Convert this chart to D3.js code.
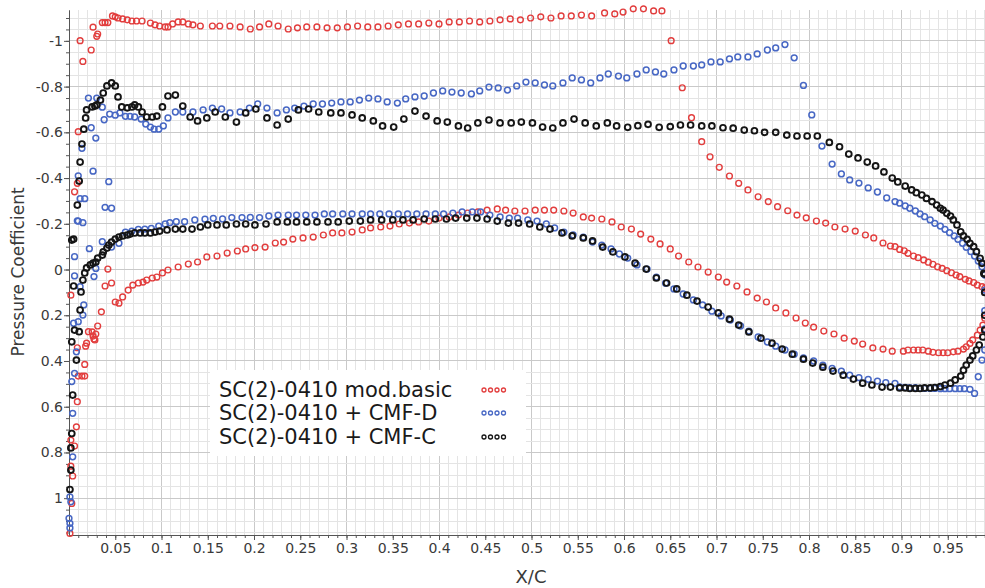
<!DOCTYPE html>
<html><head><meta charset="utf-8">
<script src="https://cdn.jsdelivr.net/npm/d3@7"></script>
<style>
html,body{margin:0;padding:0;background:#fff;}
svg{display:block;font-family:"DejaVu Sans",Verdana,sans-serif;}
</style></head><body>
<svg id="chart" width="985" height="588"></svg>
<script>
const seriesNames = ["SC(2)-0410 mod.basic", "SC(2)-0410 + CMF-D", "SC(2)-0410 + CMF-C"];
const seriesColors = ["#e23d3d", "#4767c4", "#151515"];

const basicUpper = [[0.002,0.112],[0.006,-0.340],[0.009,-0.377],[0.010,-0.603],[0.012,-1.001],[0.015,-0.910],[0.024,-0.960],[0.026,-1.060],[0.030,-1.020],[0.031,-1.030],[0.036,-1.080],[0.039,-1.080],[0.042,-1.080],[0.047,-1.109],[0.050,-1.105],[0.053,-1.100],[0.058,-1.096],[0.063,-1.092],[0.068,-1.087],[0.073,-1.087],[0.079,-1.087],[0.088,-1.078],[0.093,-1.070],[0.098,-1.065],[0.104,-1.061],[0.107,-1.061],[0.112,-1.074],[0.118,-1.083],[0.123,-1.083],[0.129,-1.074],[0.134,-1.070],[0.142,-1.065],[0.155,-1.065],[0.163,-1.065],[0.174,-1.065],[0.185,-1.061],[0.196,-1.052],[0.206,-1.061],[0.216,-1.074],[0.226,-1.065],[0.237,-1.052],[0.247,-1.057],[0.257,-1.061],[0.268,-1.061],[0.279,-1.057],[0.290,-1.057],[0.301,-1.061],[0.312,-1.065],[0.323,-1.061],[0.334,-1.061],[0.345,-1.065],[0.356,-1.070],[0.367,-1.074],[0.378,-1.074],[0.389,-1.078],[0.400,-1.074],[0.411,-1.083],[0.422,-1.083],[0.433,-1.087],[0.444,-1.083],[0.455,-1.087],[0.466,-1.092],[0.477,-1.096],[0.488,-1.092],[0.499,-1.100],[0.510,-1.105],[0.521,-1.100],[0.532,-1.109],[0.543,-1.109],[0.554,-1.113],[0.565,-1.109],[0.579,-1.122],[0.590,-1.118],[0.599,-1.126],[0.610,-1.140],[0.621,-1.140],[0.632,-1.131],[0.641,-1.131],[0.651,-1.001],[0.663,-0.795],[0.673,-0.664],[0.684,-0.559],[0.693,-0.493],[0.703,-0.447],[0.714,-0.409],[0.724,-0.377],[0.734,-0.348],[0.745,-0.318],[0.756,-0.297],[0.766,-0.275],[0.777,-0.257],[0.787,-0.238],[0.797,-0.226],[0.808,-0.212],[0.818,-0.203],[0.828,-0.186],[0.839,-0.177],[0.850,-0.168],[0.861,-0.151],[0.870,-0.138],[0.880,-0.116],[0.888,-0.103],[0.893,-0.100],[0.898,-0.088],[0.903,-0.082],[0.907,-0.071],[0.913,-0.059],[0.918,-0.052],[0.924,-0.042],[0.929,-0.032],[0.934,-0.023],[0.939,-0.012],[0.944,-0.005],[0.949,0.005],[0.954,0.014],[0.959,0.024],[0.963,0.031],[0.969,0.043],[0.973,0.050],[0.978,0.057],[0.982,0.068],[0.987,0.075],[0.990,0.082]];

const basicLower = [[0.001,1.154],[0.003,1.023],[0.004,0.903],[0.002,0.860],[0.006,0.772],[0.002,0.746],[0.008,0.688],[0.009,0.578],[0.010,0.466],[0.014,0.466],[0.017,0.466],[0.009,0.342],[0.018,0.335],[0.019,0.322],[0.017,0.415],[0.021,0.272],[0.025,0.273],[0.026,0.291],[0.027,0.304],[0.028,0.308],[0.029,0.282],[0.031,0.247],[0.035,0.185],[0.039,0.072],[0.042,-0.002],[0.046,0.059],[0.050,0.142],[0.054,0.147],[0.058,0.120],[0.064,0.090],[0.069,0.068],[0.075,0.059],[0.080,0.055],[0.084,0.046],[0.090,0.037],[0.095,0.033],[0.101,0.015],[0.107,0.002],[0.118,-0.011],[0.129,-0.024],[0.139,-0.033],[0.149,-0.055],[0.160,-0.059],[0.171,-0.072],[0.182,-0.081],[0.191,-0.090],[0.201,-0.096],[0.212,-0.098],[0.223,-0.116],[0.232,-0.120],[0.242,-0.133],[0.253,-0.138],[0.264,-0.142],[0.275,-0.151],[0.285,-0.160],[0.295,-0.160],[0.306,-0.164],[0.317,-0.173],[0.326,-0.182],[0.337,-0.186],[0.347,-0.190],[0.357,-0.199],[0.368,-0.203],[0.378,-0.208],[0.389,-0.212],[0.400,-0.225],[0.411,-0.230],[0.421,-0.238],[0.431,-0.247],[0.442,-0.252],[0.452,-0.260],[0.463,-0.265],[0.472,-0.260],[0.482,-0.256],[0.493,-0.256],[0.504,-0.260],[0.514,-0.260],[0.524,-0.260],[0.535,-0.256],[0.545,-0.247],[0.556,-0.230],[0.565,-0.225],[0.576,-0.221],[0.587,-0.208],[0.597,-0.186],[0.608,-0.177],[0.618,-0.155],[0.629,-0.133],[0.639,-0.112],[0.650,-0.090],[0.659,-0.059],[0.670,-0.033],[0.680,-0.011],[0.691,0.011],[0.702,0.033],[0.711,0.055],[0.722,0.072],[0.733,0.098],[0.744,0.125],[0.754,0.142],[0.764,0.168],[0.775,0.190],[0.786,0.212],[0.796,0.234],[0.805,0.252],[0.816,0.269],[0.827,0.282],[0.838,0.300],[0.849,0.313],[0.858,0.326],[0.869,0.343],[0.880,0.348],[0.890,0.357],[0.902,0.357],[0.907,0.352],[0.913,0.352],[0.918,0.352],[0.923,0.352],[0.929,0.357],[0.934,0.362],[0.940,0.364],[0.945,0.364],[0.950,0.364],[0.956,0.360],[0.961,0.357],[0.967,0.348],[0.970,0.338],[0.974,0.323],[0.977,0.308],[0.982,0.287],[0.985,0.265],[0.988,0.243],[0.990,0.213]];

const cmfdUpper = [[0.006,-0.056],[0.009,-0.213],[0.010,-0.410],[0.012,-0.310],[0.017,-0.310],[0.014,-0.530],[0.021,-0.750],[0.024,-0.620],[0.030,-0.750],[0.029,-0.575],[0.026,-0.430],[0.043,-0.384],[0.039,-0.272],[0.046,-0.268],[0.036,-0.710],[0.038,-0.655],[0.044,-0.680],[0.050,-0.675],[0.055,-0.685],[0.061,-0.670],[0.066,-0.670],[0.071,-0.667],[0.078,-0.658],[0.083,-0.636],[0.088,-0.623],[0.092,-0.614],[0.097,-0.614],[0.102,-0.628],[0.107,-0.663],[0.115,-0.689],[0.123,-0.689],[0.134,-0.689],[0.145,-0.698],[0.155,-0.706],[0.165,-0.702],[0.174,-0.685],[0.185,-0.689],[0.195,-0.706],[0.204,-0.724],[0.214,-0.706],[0.225,-0.685],[0.235,-0.698],[0.244,-0.706],[0.254,-0.715],[0.264,-0.724],[0.274,-0.724],[0.284,-0.728],[0.294,-0.733],[0.304,-0.733],[0.314,-0.741],[0.324,-0.750],[0.334,-0.746],[0.344,-0.733],[0.355,-0.728],[0.364,-0.746],[0.374,-0.755],[0.384,-0.759],[0.394,-0.772],[0.404,-0.781],[0.414,-0.776],[0.424,-0.772],[0.435,-0.768],[0.444,-0.781],[0.454,-0.798],[0.464,-0.794],[0.474,-0.785],[0.484,-0.803],[0.494,-0.820],[0.504,-0.816],[0.514,-0.807],[0.523,-0.803],[0.534,-0.816],[0.544,-0.838],[0.554,-0.829],[0.564,-0.816],[0.574,-0.838],[0.583,-0.855],[0.594,-0.846],[0.603,-0.838],[0.614,-0.855],[0.624,-0.873],[0.634,-0.864],[0.643,-0.855],[0.654,-0.873],[0.664,-0.890],[0.675,-0.890],[0.684,-0.895],[0.694,-0.908],[0.704,-0.908],[0.714,-0.921],[0.723,-0.930],[0.734,-0.930],[0.744,-0.943],[0.755,-0.960],[0.764,-0.969],[0.774,-0.984],[0.784,-0.926],[0.794,-0.805],[0.803,-0.676],[0.814,-0.540],[0.825,-0.461],[0.835,-0.418],[0.844,-0.392],[0.854,-0.378],[0.864,-0.357],[0.874,-0.339],[0.884,-0.313],[0.893,-0.297],[0.898,-0.290],[0.904,-0.278],[0.909,-0.268],[0.915,-0.256],[0.920,-0.243],[0.925,-0.231],[0.931,-0.217],[0.936,-0.202],[0.942,-0.190],[0.947,-0.176],[0.952,-0.161],[0.957,-0.147],[0.961,-0.132],[0.966,-0.115],[0.970,-0.097],[0.975,-0.078],[0.979,-0.059],[0.983,-0.037],[0.987,-0.012],[0.990,0.024]];

const cmfdLower = [[0.001,1.130],[0.001,1.110],[0.000,1.088],[0.002,1.016],[0.001,0.994],[0.004,0.819],[0.004,0.629],[0.003,0.490],[0.006,0.454],[0.008,0.360],[0.005,0.235],[0.010,0.228],[0.015,0.199],[0.016,0.155],[0.012,0.075],[0.006,0.028],[0.010,-0.212],[0.015,-0.205],[0.022,-0.091],[0.027,0.031],[0.029,-0.005],[0.036,-0.122],[0.046,-0.098],[0.054,-0.115],[0.061,-0.163],[0.068,-0.168],[0.075,-0.176],[0.082,-0.177],[0.089,-0.180],[0.097,-0.190],[0.104,-0.199],[0.109,-0.205],[0.116,-0.209],[0.125,-0.209],[0.136,-0.217],[0.147,-0.220],[0.156,-0.224],[0.166,-0.221],[0.176,-0.227],[0.187,-0.227],[0.196,-0.228],[0.206,-0.227],[0.216,-0.234],[0.226,-0.238],[0.237,-0.238],[0.246,-0.238],[0.256,-0.238],[0.266,-0.238],[0.276,-0.243],[0.285,-0.243],[0.296,-0.243],[0.306,-0.243],[0.317,-0.243],[0.326,-0.243],[0.336,-0.243],[0.346,-0.243],[0.356,-0.243],[0.366,-0.243],[0.376,-0.243],[0.386,-0.243],[0.396,-0.243],[0.405,-0.243],[0.415,-0.247],[0.425,-0.252],[0.436,-0.252],[0.445,-0.252],[0.455,-0.238],[0.466,-0.230],[0.476,-0.225],[0.485,-0.225],[0.496,-0.217],[0.506,-0.212],[0.516,-0.199],[0.525,-0.182],[0.535,-0.164],[0.545,-0.151],[0.556,-0.142],[0.566,-0.120],[0.576,-0.107],[0.586,-0.090],[0.595,-0.068],[0.604,-0.050],[0.614,-0.020],[0.625,-0.002],[0.635,0.033],[0.645,0.060],[0.654,0.085],[0.664,0.107],[0.675,0.133],[0.685,0.155],[0.695,0.182],[0.705,0.203],[0.715,0.221],[0.726,0.247],[0.735,0.269],[0.745,0.295],[0.755,0.317],[0.764,0.335],[0.774,0.352],[0.784,0.370],[0.794,0.387],[0.805,0.400],[0.815,0.418],[0.825,0.432],[0.835,0.444],[0.844,0.462],[0.854,0.473],[0.864,0.480],[0.874,0.488],[0.883,0.495],[0.893,0.498],[0.898,0.513],[0.904,0.515],[0.909,0.517],[0.915,0.517],[0.920,0.520],[0.925,0.520],[0.931,0.520],[0.936,0.520],[0.942,0.521],[0.947,0.521],[0.952,0.521],[0.958,0.521],[0.963,0.521],[0.968,0.521],[0.974,0.524],[0.979,0.542],[0.983,0.469],[0.987,0.396],[0.990,0.352],[0.990,0.260],[0.990,0.180],[0.990,0.090]];

const cmfcUpper = [[0.005,-0.133],[0.009,-0.282],[0.011,-0.387],[0.012,-0.470],[0.014,-0.549],[0.016,-0.614],[0.018,-0.663],[0.019,-0.698],[0.025,-0.711],[0.028,-0.715],[0.030,-0.720],[0.034,-0.741],[0.037,-0.772],[0.041,-0.803],[0.046,-0.816],[0.050,-0.803],[0.053,-0.755],[0.057,-0.711],[0.063,-0.707],[0.068,-0.711],[0.071,-0.720],[0.075,-0.711],[0.079,-0.689],[0.084,-0.667],[0.090,-0.667],[0.095,-0.671],[0.101,-0.711],[0.107,-0.759],[0.115,-0.763],[0.123,-0.715],[0.131,-0.667],[0.139,-0.650],[0.149,-0.663],[0.158,-0.689],[0.169,-0.667],[0.181,-0.645],[0.191,-0.685],[0.202,-0.702],[0.214,-0.663],[0.225,-0.632],[0.237,-0.658],[0.248,-0.698],[0.259,-0.702],[0.270,-0.689],[0.283,-0.685],[0.294,-0.685],[0.306,-0.676],[0.317,-0.663],[0.329,-0.650],[0.339,-0.628],[0.351,-0.623],[0.362,-0.658],[0.374,-0.693],[0.386,-0.671],[0.398,-0.650],[0.409,-0.645],[0.421,-0.628],[0.431,-0.619],[0.442,-0.641],[0.454,-0.654],[0.466,-0.641],[0.478,-0.641],[0.489,-0.645],[0.501,-0.641],[0.512,-0.623],[0.523,-0.619],[0.534,-0.641],[0.546,-0.658],[0.558,-0.641],[0.570,-0.628],[0.582,-0.641],[0.592,-0.628],[0.604,-0.622],[0.615,-0.629],[0.626,-0.635],[0.638,-0.622],[0.650,-0.625],[0.661,-0.632],[0.672,-0.632],[0.684,-0.628],[0.695,-0.628],[0.707,-0.620],[0.718,-0.618],[0.730,-0.610],[0.741,-0.607],[0.752,-0.600],[0.764,-0.600],[0.776,-0.588],[0.787,-0.584],[0.798,-0.584],[0.809,-0.584],[0.822,-0.556],[0.833,-0.537],[0.843,-0.505],[0.853,-0.488],[0.863,-0.470],[0.872,-0.453],[0.881,-0.427],[0.890,-0.400],[0.896,-0.383],[0.904,-0.365],[0.911,-0.348],[0.916,-0.336],[0.922,-0.326],[0.927,-0.311],[0.933,-0.297],[0.938,-0.282],[0.942,-0.268],[0.945,-0.260],[0.949,-0.246],[0.953,-0.234],[0.956,-0.217],[0.960,-0.195],[0.964,-0.165],[0.967,-0.147],[0.971,-0.132],[0.974,-0.115],[0.978,-0.100],[0.981,-0.078],[0.985,-0.049],[0.987,-0.027],[0.989,0.017]];

const cmfcLower = [[0.001,0.962],[0.002,0.877],[0.002,0.780],[0.003,0.717],[0.004,0.549],[0.008,0.396],[0.003,0.316],[0.006,0.265],[0.011,0.272],[0.012,0.177],[0.013,0.098],[0.005,0.072],[0.003,-0.129],[0.015,0.046],[0.017,0.015],[0.019,-0.007],[0.023,-0.020],[0.026,-0.028],[0.029,-0.033],[0.031,-0.050],[0.036,-0.063],[0.037,-0.077],[0.041,-0.094],[0.043,-0.107],[0.046,-0.120],[0.050,-0.133],[0.054,-0.142],[0.058,-0.147],[0.063,-0.151],[0.066,-0.155],[0.071,-0.160],[0.077,-0.160],[0.082,-0.160],[0.088,-0.160],[0.093,-0.164],[0.098,-0.168],[0.106,-0.173],[0.115,-0.177],[0.123,-0.177],[0.133,-0.177],[0.142,-0.186],[0.150,-0.195],[0.160,-0.195],[0.170,-0.195],[0.181,-0.199],[0.191,-0.199],[0.201,-0.195],[0.213,-0.199],[0.225,-0.208],[0.236,-0.208],[0.246,-0.208],[0.257,-0.208],[0.268,-0.208],[0.280,-0.208],[0.291,-0.208],[0.303,-0.212],[0.315,-0.212],[0.326,-0.217],[0.338,-0.217],[0.350,-0.217],[0.361,-0.217],[0.372,-0.217],[0.384,-0.221],[0.396,-0.221],[0.408,-0.221],[0.418,-0.225],[0.430,-0.225],[0.441,-0.225],[0.452,-0.221],[0.463,-0.212],[0.475,-0.203],[0.486,-0.203],[0.498,-0.199],[0.509,-0.186],[0.520,-0.177],[0.533,-0.160],[0.544,-0.147],[0.556,-0.138],[0.566,-0.125],[0.577,-0.098],[0.588,-0.077],[0.601,-0.055],[0.612,-0.028],[0.624,-0.002],[0.635,0.037],[0.646,0.059],[0.657,0.085],[0.668,0.112],[0.679,0.138],[0.691,0.164],[0.702,0.190],[0.714,0.217],[0.724,0.243],[0.735,0.273],[0.748,0.300],[0.760,0.322],[0.771,0.348],[0.782,0.370],[0.794,0.392],[0.804,0.409],[0.815,0.427],[0.826,0.444],[0.837,0.462],[0.848,0.479],[0.858,0.497],[0.868,0.505],[0.879,0.514],[0.888,0.514],[0.898,0.518],[0.904,0.518],[0.909,0.520],[0.915,0.520],[0.920,0.520],[0.925,0.518],[0.931,0.518],[0.936,0.516],[0.942,0.512],[0.947,0.505],[0.953,0.497],[0.958,0.483],[0.964,0.466],[0.967,0.440],[0.970,0.418],[0.974,0.396],[0.977,0.378],[0.981,0.352],[0.984,0.330],[0.988,0.295],[0.990,0.265],[0.990,0.200],[0.990,0.100],[0.990,0.020]];

const xTickValues = [0.05,0.1,0.15,0.2,0.25,0.3,0.35,0.4,0.45,0.5,0.55,0.6,0.65,0.7,0.75,0.8,0.85,0.9,0.95];
const xTickLabels = ["0.05","0.1","0.15","0.2","0.25","0.3","0.35","0.4","0.45","0.5","0.55","0.6","0.65","0.7","0.75","0.8","0.85","0.9","0.95"];
const yTickValues = [-1,-0.8,-0.6,-0.4,-0.2,0,0.2,0.4,0.6,0.8,1];
const yTickLabels = ["-1","-0.8","-0.6","-0.4","-0.2","0","0.2","0.4","0.6","0.8","1"];
const xAxisTitle = "X/C";
const yAxisTitle = "Pressure Coefficient";

const svg = d3.select("#chart");
const x = d3.scaleLinear().domain([0, 1]).range([69, 994]);
const y = d3.scaleLinear().domain([-1.135, 1.161]).range([10, 535]);
const [x0, x1] = x.range(), [y0, y1] = y.range();

// grid
const minorX = d3.range(1, 100).map(i => i / 100);
const minorY = d3.range(-22, 24).map(i => i * 0.05);
const grid = svg.append("g");
grid.selectAll(".mx").data(minorX).join("line")
  .attr("x1", d => x(d)).attr("x2", d => x(d)).attr("y1", y0).attr("y2", y1)
  .attr("stroke", d => (Math.round(d * 100) % 10 === 0) ? "#c9c9c9" : "#e4e4e4").attr("stroke-width", 1)
  .attr("shape-rendering", "crispEdges");
grid.selectAll(".my").data(minorY).join("line")
  .attr("x1", x0).attr("x2", x1).attr("y1", d => y(d)).attr("y2", d => y(d))
  .attr("stroke", d => (Math.round(d * 20) % 4 === 0) ? "#c9c9c9" : "#e4e4e4").attr("stroke-width", 1)
  .attr("shape-rendering", "crispEdges");

// axes
const axisColor = "#555";
const gx = svg.append("g").attr("transform", `translate(0,${y1})`)
  .call(d3.axisBottom(x).tickValues(minorX).tickSize(3).tickSizeOuter(0).tickFormat(""));
const gx2 = svg.append("g").attr("transform", `translate(0,${y1})`)
  .call(d3.axisBottom(x).tickValues(xTickValues).tickSize(5).tickSizeOuter(0).tickPadding(3)
    .tickFormat((d, i) => xTickLabels[i]));
const gy = svg.append("g").attr("transform", `translate(${x0},0)`)
  .call(d3.axisLeft(y).tickValues(minorY.filter(v => v >= -1.13 && v <= 1.16)).tickSize(3).tickSizeOuter(0).tickFormat(""));
const gy2 = svg.append("g").attr("transform", `translate(${x0},0)`)
  .call(d3.axisLeft(y).tickValues(yTickValues).tickSize(5).tickSizeOuter(0).tickPadding(1)
    .tickFormat((d, i) => yTickLabels[i]));
[gx, gx2, gy, gy2].forEach(g => {
  g.selectAll("path").attr("stroke", axisColor);
  g.selectAll("line").attr("stroke", axisColor);
  g.selectAll("text").attr("fill", "#3a3a3a").style("font-size", "14px").style("font-family", '"DejaVu Sans",Verdana,sans-serif');
});

// points
const series = [
  {name: seriesNames[0], color: seriesColors[0], data: basicUpper.concat(basicLower), sw: 1.4},
  {name: seriesNames[1], color: seriesColors[1], data: cmfdUpper.concat(cmfdLower), sw: 1.5},
  {name: seriesNames[2], color: seriesColors[2], data: cmfcUpper.concat(cmfcLower), sw: 1.9}
];
const plot = svg.append("g");
series.forEach(s => {
  plot.append("g").selectAll("circle").data(s.data).join("circle")
    .attr("cx", d => x(d[0])).attr("cy", d => y(d[1])).attr("r", 2.9)
    .attr("fill", "none").attr("stroke", s.color).attr("stroke-width", s.sw);
});

// axis titles
svg.append("text").attr("x", 531).attr("y", 583).attr("text-anchor", "middle")
  .style("font-size", "18px").attr("fill", "#3a3a3a").text(xAxisTitle);
svg.append("text").attr("transform", "translate(24,272) rotate(-90)").attr("text-anchor", "middle")
  .style("font-size", "17px").attr("fill", "#3a3a3a").text(yAxisTitle);

// legend
const leg = svg.append("g");
leg.append("rect").attr("x", 210).attr("y", 370).attr("width", 316).attr("height", 86).attr("fill", "#fff");
const legY = [397, 420, 444];
series.forEach((s, i) => {
  leg.append("text").attr("x", 219).attr("y", legY[i]).style("font-size", "21px").attr("fill", "#1a1a1a").text(s.name);
  leg.selectAll(null).data([0, 1, 2, 3]).join("circle")
    .attr("cx", k => 484 + k * 6.5).attr("cy", legY[i] - 7).attr("r", 2)
    .attr("fill", "none").attr("stroke", s.color).attr("stroke-width", 1.3);
});
</script>
</body></html>
